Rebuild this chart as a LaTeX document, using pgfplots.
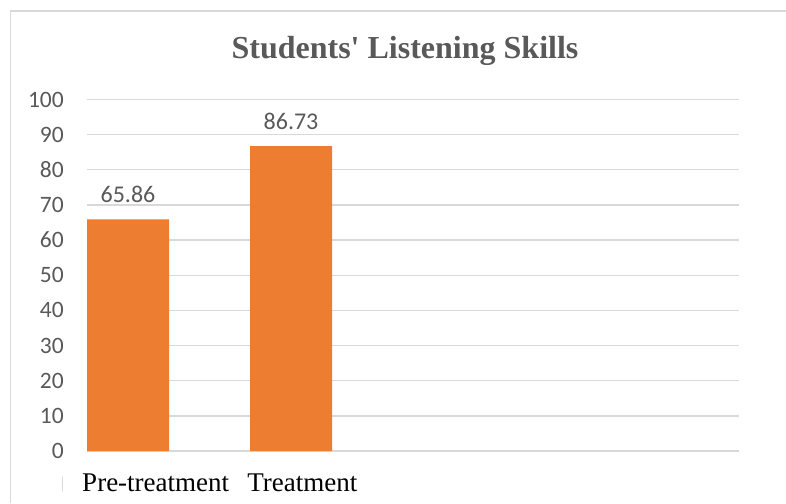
\documentclass[border=0pt]{standalone}
\usepackage{pgfplots}
\pgfplotsset{compat=1.18}
\usepackage{fontspec}
\setmainfont{Liberation Serif}
\newfontfamily\titlefont{Liberation Serif}
\newfontfamily\calibri{Carlito}
\definecolor{barorange}{HTML}{ED7D31}
\definecolor{gridgray}{HTML}{D9D9D9}
\definecolor{txtgray}{HTML}{595959}
\begin{document}
\begin{tikzpicture}
\path[use as bounding box] (0pt,0pt) rectangle (786pt,503pt);
\draw[gridgray, line width=1.2pt] (10.5pt,0pt) -- (10.5pt,492pt) -- (786pt,492pt);
\draw[gridgray, line width=1pt] (62pt,12pt) -- (62pt,26pt);
\node[anchor=base, font=\titlefont\fontsize{32}{37}\selectfont\bfseries, text=txtgray, inner sep=0pt] at (405pt,444pt) {Students' Listening Skills};
\begin{axis}[
  at={(87pt,52pt)}, anchor=south west,
  scale only axis, width=652pt, height=351.5pt,
  xmin=-0.2515, xmax=3.748, ymin=0, ymax=100,
  ytick={0,10,...,100},
  xtick={0.17,1.07},
  xticklabels={Pre-treatment,Treatment},
  major tick length=0pt,
  axis line style={draw=none},
  ymajorgrids, grid style={gridgray, line width=1.3pt},
  /pgf/number format/assume math mode=true,
  yticklabel style={font=\calibri\fontsize{23.5}{27}\selectfont, text=txtgray, inner sep=0pt, anchor=east, xshift=-23pt},
  xticklabel style={font=\fontsize{27}{32}\selectfont, text=black, inner sep=0pt, anchor=base, yshift=-40.7pt},
  ybar, bar width=82pt,
  nodes near coords,
  nodes near coords style={font=\calibri\fontsize{24}{28}\selectfont, text=txtgray, inner sep=0pt, anchor=base, yshift=17pt, /pgf/number format/.cd, fixed, precision=2, fixed zerofill},
]
\addplot[fill=barorange, draw=none] coordinates {(0,65.86) (1,86.73)};
\end{axis}
\end{tikzpicture}
\end{document}
